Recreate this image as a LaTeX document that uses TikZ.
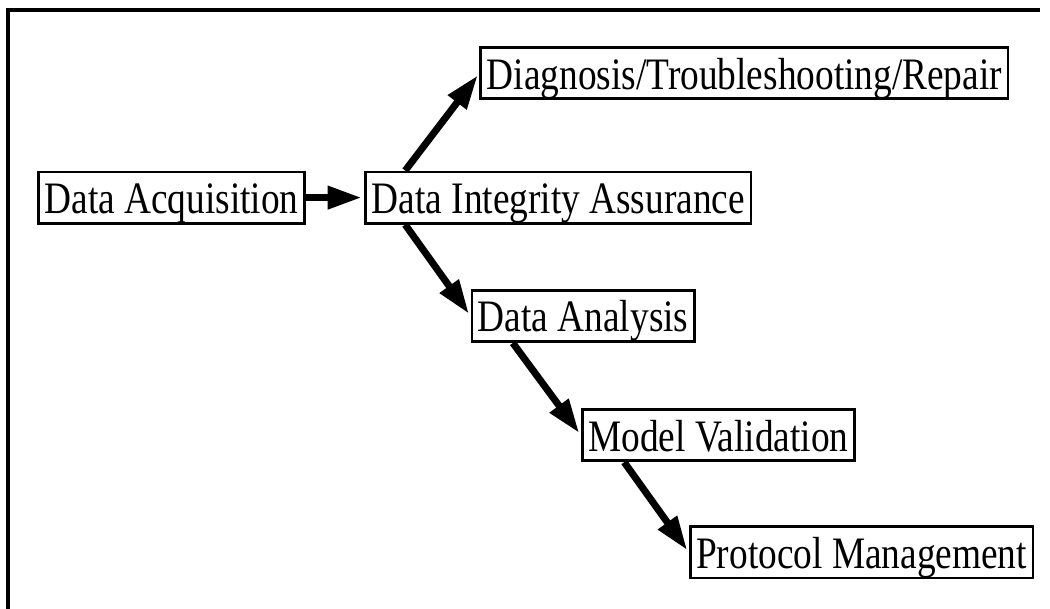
\documentclass[tikz,border=0pt]{standalone}
\usepackage{fontspec}
\newfontfamily\boxfont{Liberation Serif}[FakeStretch=0.83]
\usepackage{tikz}
\usetikzlibrary{arrows.meta,positioning}
\tikzstyle{stage}=[draw, line width=2pt, fill=white, inner xsep=0.15cm, inner ysep=0pt, text height=1.04cm, text depth=0.24cm, font=\boxfont\fontsize{32}{38}\selectfont]
\tikzstyle{flow}=[line width=5pt, shorten >=2pt]

\begin{document}
\begin{tikzpicture}[>={Triangle[length=0.85cm,width=0.55cm]}]
	\useasboundingbox (0,0) rectangle (26.25,-15.225);
	% frame
	\draw[line width=2.4pt] (26,-0.25) -- (0.2,-0.25) -- (0.2,-15.225);
	\node [stage] (acq) at (4.29,-4.94) {Data Acquisition};
	\node [stage] (dia) [right of=acq,node distance=9.67cm] {Data Integrity Assurance};
	\node [stage] (diag) [above of=dia,node distance=3.11cm,xshift=4.65cm] {Diagnosis/Troubleshooting/Repair};
	\node [stage] (ana) [below of=dia,node distance=2.96cm,xshift=0.62cm] {Data Analysis};
	\node [stage] (val) [below of=ana,node distance=2.98cm,xshift=3.38cm] {Model Validation};
	\node [stage] (prot) [below of=val,node distance=2.93cm,xshift=3.58cm] {Protocol Management};
	\path[flow,->]
	(acq) edge (dia)
	(dia.170) edge (diag.west)
	(dia.190) edge (ana.west)
	(ana.201) edge (val.west)
	(val.196) edge (prot.west);
\end{tikzpicture}
\end{document}
